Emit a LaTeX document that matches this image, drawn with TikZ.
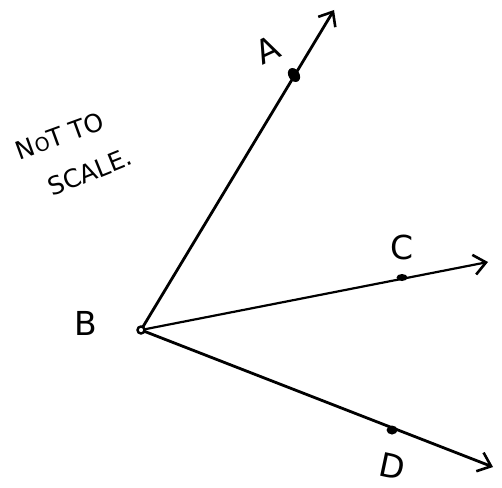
\documentclass[tikz,border=0pt]{standalone}
\usepackage{fontspec}
\setmainfont{DejaVu Sans}
\usetikzlibrary{arrows.meta}
\begin{document}
\begin{tikzpicture}[x=1pt,y=-1pt,
  ray/.style={line width=2.8pt,-{Straight Barb[length=12pt,width=20pt,line width=2.6pt]}},
  lbl/.style={font=\fontsize{33}{33}\selectfont,inner sep=0pt},
  note/.style={font=\fontsize{25}{25}\selectfont,inner sep=0pt}]
\useasboundingbox (0,0) rectangle (502,487);
\fill[white] (0,0) rectangle (502,487);
\coordinate (B) at (141,330);
\coordinate (Atip) at (334,10);
\coordinate (Ctip) at (488,262);
\coordinate (Dtip) at (493,467);
\draw[ray] (B) -- (Atip);
\draw[ray,line width=2.2pt] (B) -- (Ctip);
\draw[ray] (B) -- (Dtip);
\fill[rotate around={-58:(294,75)}] (294,75) ellipse (7.5pt and 5.5pt);
\fill (402,277.5) ellipse (5.5pt and 3.5pt);
\fill (392,430) ellipse (5.5pt and 4.5pt);
\draw[line width=2.4pt,fill=white] (B) circle (3.5pt);
\node[lbl,rotate=25] (la) at (268,50) {A};
\node[lbl] (lb) at (86,323) {B};
\node[lbl] (lc) at (402,247) {C};
\node[lbl,rotate=-12] (ld) at (392,466) {D};
\node[note,rotate=20] (n1) at (60,136) {N{\fontsize{19}{19}\selectfont O}T TO};
\node[note,rotate=22] (n2) at (90,172) {SCALE.};
\end{tikzpicture}
\end{document}
